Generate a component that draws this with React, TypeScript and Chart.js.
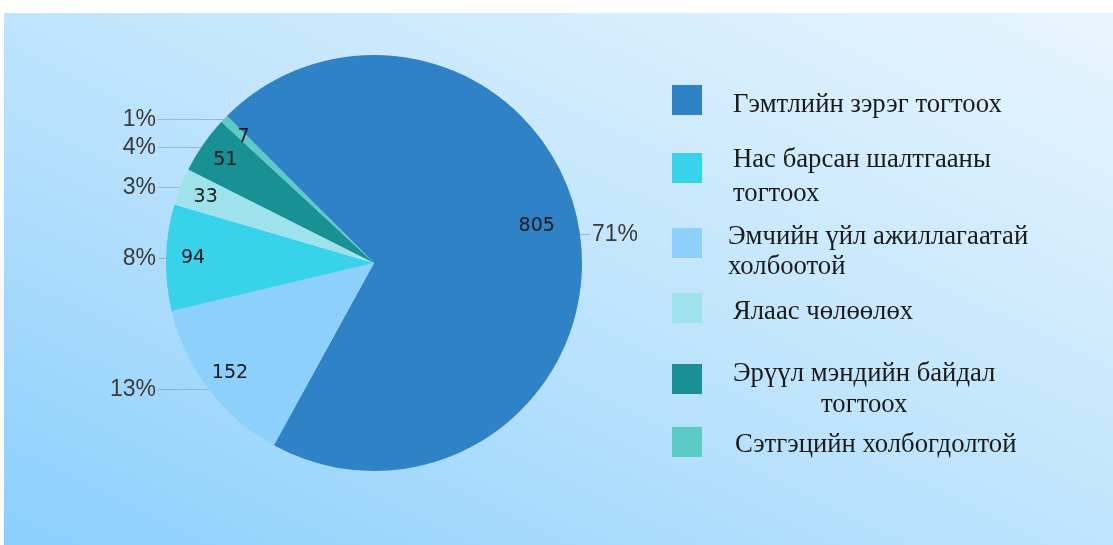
import React, { useEffect, useRef } from "react";
import { Chart, registerables } from "chart.js";

Chart.register(...registerables);

// Data in pie (drawing) order, clockwise from the start angle
const labelLines: string[][] = [
  ["Гэмтлийн зэрэг тогтоох"],
  ["Эмчийн үйл ажиллагаатай", "холбоотой"],
  ["Нас барсан шалтгааны", "тогтоох"],
  ["Ялаас чөлөөлөх"],
  ["Эрүүл мэндийн байдал", "тогтоох"],
  ["Сэтгэцийн холбогдолтой"],
];
const labels: string[] = labelLines.map((l) => l.join(" "));
const values: number[] = [805, 152, 94, 33, 51, 7];
const percentLabels: string[] = ["71%", "13%", "8%", "3%", "4%", "1%"];
const colors: string[] = ["#2e82c5", "#8dd0fc", "#38d3ea", "#a0e2ec", "#189094", "#5ccac6"];
// Legend shows the categories in this order (indices into the arrays above)
const legendOrder: number[] = [0, 2, 1, 3, 4, 5];

// Layout (page coordinates)
const BOX_LEFT = 4;
const BOX_TOP = 13;
const BOX_W = 1109;
const BOX_H = 532;
const legendSquareTops = [85, 153, 228, 293, 364, 427];
const legendTextCenters = [103, 158, 235, 310, 372, 443];
const legendTextLefts = [733, 733, 728, 733, 733, 735];
const legendLineHeights = [32, 34, 30, 32, 31, 32];
const legendCentered = [false, false, false, false, true, false];

const labelPlugin = {
  id: "pieLabels",
  afterDatasetsDraw(chart: any) {
    const ctx = chart.ctx as CanvasRenderingContext2D;
    const meta = chart.getDatasetMeta(0);
    const total = values.reduce((a, b) => a + b, 0);
    type Out = { y: number; side: number; text: string };
    const left: Out[] = [];
    const right: Out[] = [];
    let cx = 0, cy = 0, R = 0;
    meta.data.forEach((arc: any, i: number) => {
      const p = arc.getProps(["x", "y", "startAngle", "endAngle", "outerRadius"], true);
      cx = p.x; cy = p.y; R = p.outerRadius;
      const mid = (p.startAngle + p.endAngle) / 2;
      const share = values[i] / total;
      const f = share > 0.5 ? 0.79 : 0.87;
      ctx.save();
      ctx.font = "19px 'DejaVu Sans'";
      ctx.fillStyle = "#1a1a1a";
      ctx.textAlign = "center";
      ctx.textBaseline = "middle";
      const dy = share > 0.5 ? -14 : 0;
      ctx.fillText(String(values[i]), p.x + Math.cos(mid) * R * f, p.y + Math.sin(mid) * R * f + dy);
      ctx.restore();
      const o = { y: p.y + Math.sin(mid) * R, side: Math.cos(mid) >= 0 ? 1 : -1, text: percentLabels[i] };
      (o.side > 0 ? right : left).push(o);
    });
    const spread = (arr: Out[]) => {
      arr.sort((a, b) => a.y - b.y);
      for (let k = 1; k < arr.length; k++) {
        if (arr[k].y - arr[k - 1].y < 28) arr[k].y = arr[k - 1].y + 28;
      }
    };
    spread(left);
    spread(right);
    ctx.save();
    ctx.font = "23px 'Liberation Sans'";
    ctx.textBaseline = "middle";
    [...left, ...right].forEach((o) => {
      const dy = o.y - cy;
      const dx = Math.sqrt(Math.max(0, R * R - dy * dy));
      const xArc = cx + o.side * dx;
      const xEnd = cx + o.side * (R + 8);
      ctx.strokeStyle = "rgba(110,135,150,0.45)";
      ctx.lineWidth = 1;
      ctx.beginPath();
      ctx.moveTo(xArc, Math.round(o.y) + 0.5);
      ctx.lineTo(xEnd, Math.round(o.y) + 0.5);
      ctx.stroke();
      ctx.fillStyle = "#3a3a3a";
      ctx.textAlign = o.side > 0 ? "left" : "right";
      ctx.fillText(o.text, cx + o.side * (R + 10), o.y + 1);
    });
    ctx.restore();
  },
};

export default function App() {
  const canvasRef = useRef<HTMLCanvasElement | null>(null);

  useEffect(() => {
    if (!canvasRef.current) return;
    const chart = new Chart(canvasRef.current, {
      type: "pie",
      data: {
        labels,
        datasets: [
          {
            data: values,
            backgroundColor: colors,
            borderWidth: 0,
          },
        ],
      },
      options: {
        animation: false,
        responsive: false,
        rotation: -45,
        layout: { padding: { left: 162, top: 42, right: 531, bottom: 74 } },
        plugins: {
          legend: { display: false },
          tooltip: { enabled: false },
        },
      },
      plugins: [labelPlugin],
    });
    return () => chart.destroy();
  }, []);

  return (
    <div style={{ position: "absolute", left: 0, top: 0, width: 1113, height: 545, background: "#ffffff", overflow: "hidden" }}>
      <div
        style={{
          position: "absolute",
          left: BOX_LEFT,
          top: BOX_TOP,
          width: BOX_W,
          height: BOX_H,
          background: "linear-gradient(to top right, #8bcffd 0%, #bfe4fc 50%, #e8f5fe 100%)",
        }}
      >
        <canvas ref={canvasRef} width={BOX_W} height={BOX_H} style={{ display: "block" }} />
      </div>
      {legendOrder.map((idx, k) => (
        <React.Fragment key={k}>
          <div
            style={{
              position: "absolute",
              left: 672,
              top: legendSquareTops[k],
              width: 30,
              height: 30,
              background: colors[idx],
            }}
          />
          <div
            style={{
              position: "absolute",
              left: legendTextLefts[k],
              top: legendTextCenters[k] - legendLineHeights[k] / 2,
              fontFamily: "'Liberation Serif', serif",
              fontSize: 26.7,
              lineHeight: legendLineHeights[k] + "px",
              color: "#1a1a1a",
              whiteSpace: "nowrap",
              textAlign: legendCentered[k] ? "center" : "left",
            }}
          >
            {labelLines[idx].map((line, j) => (
              <div key={j}>{line}</div>
            ))}
          </div>
        </React.Fragment>
      ))}
    </div>
  );
}
